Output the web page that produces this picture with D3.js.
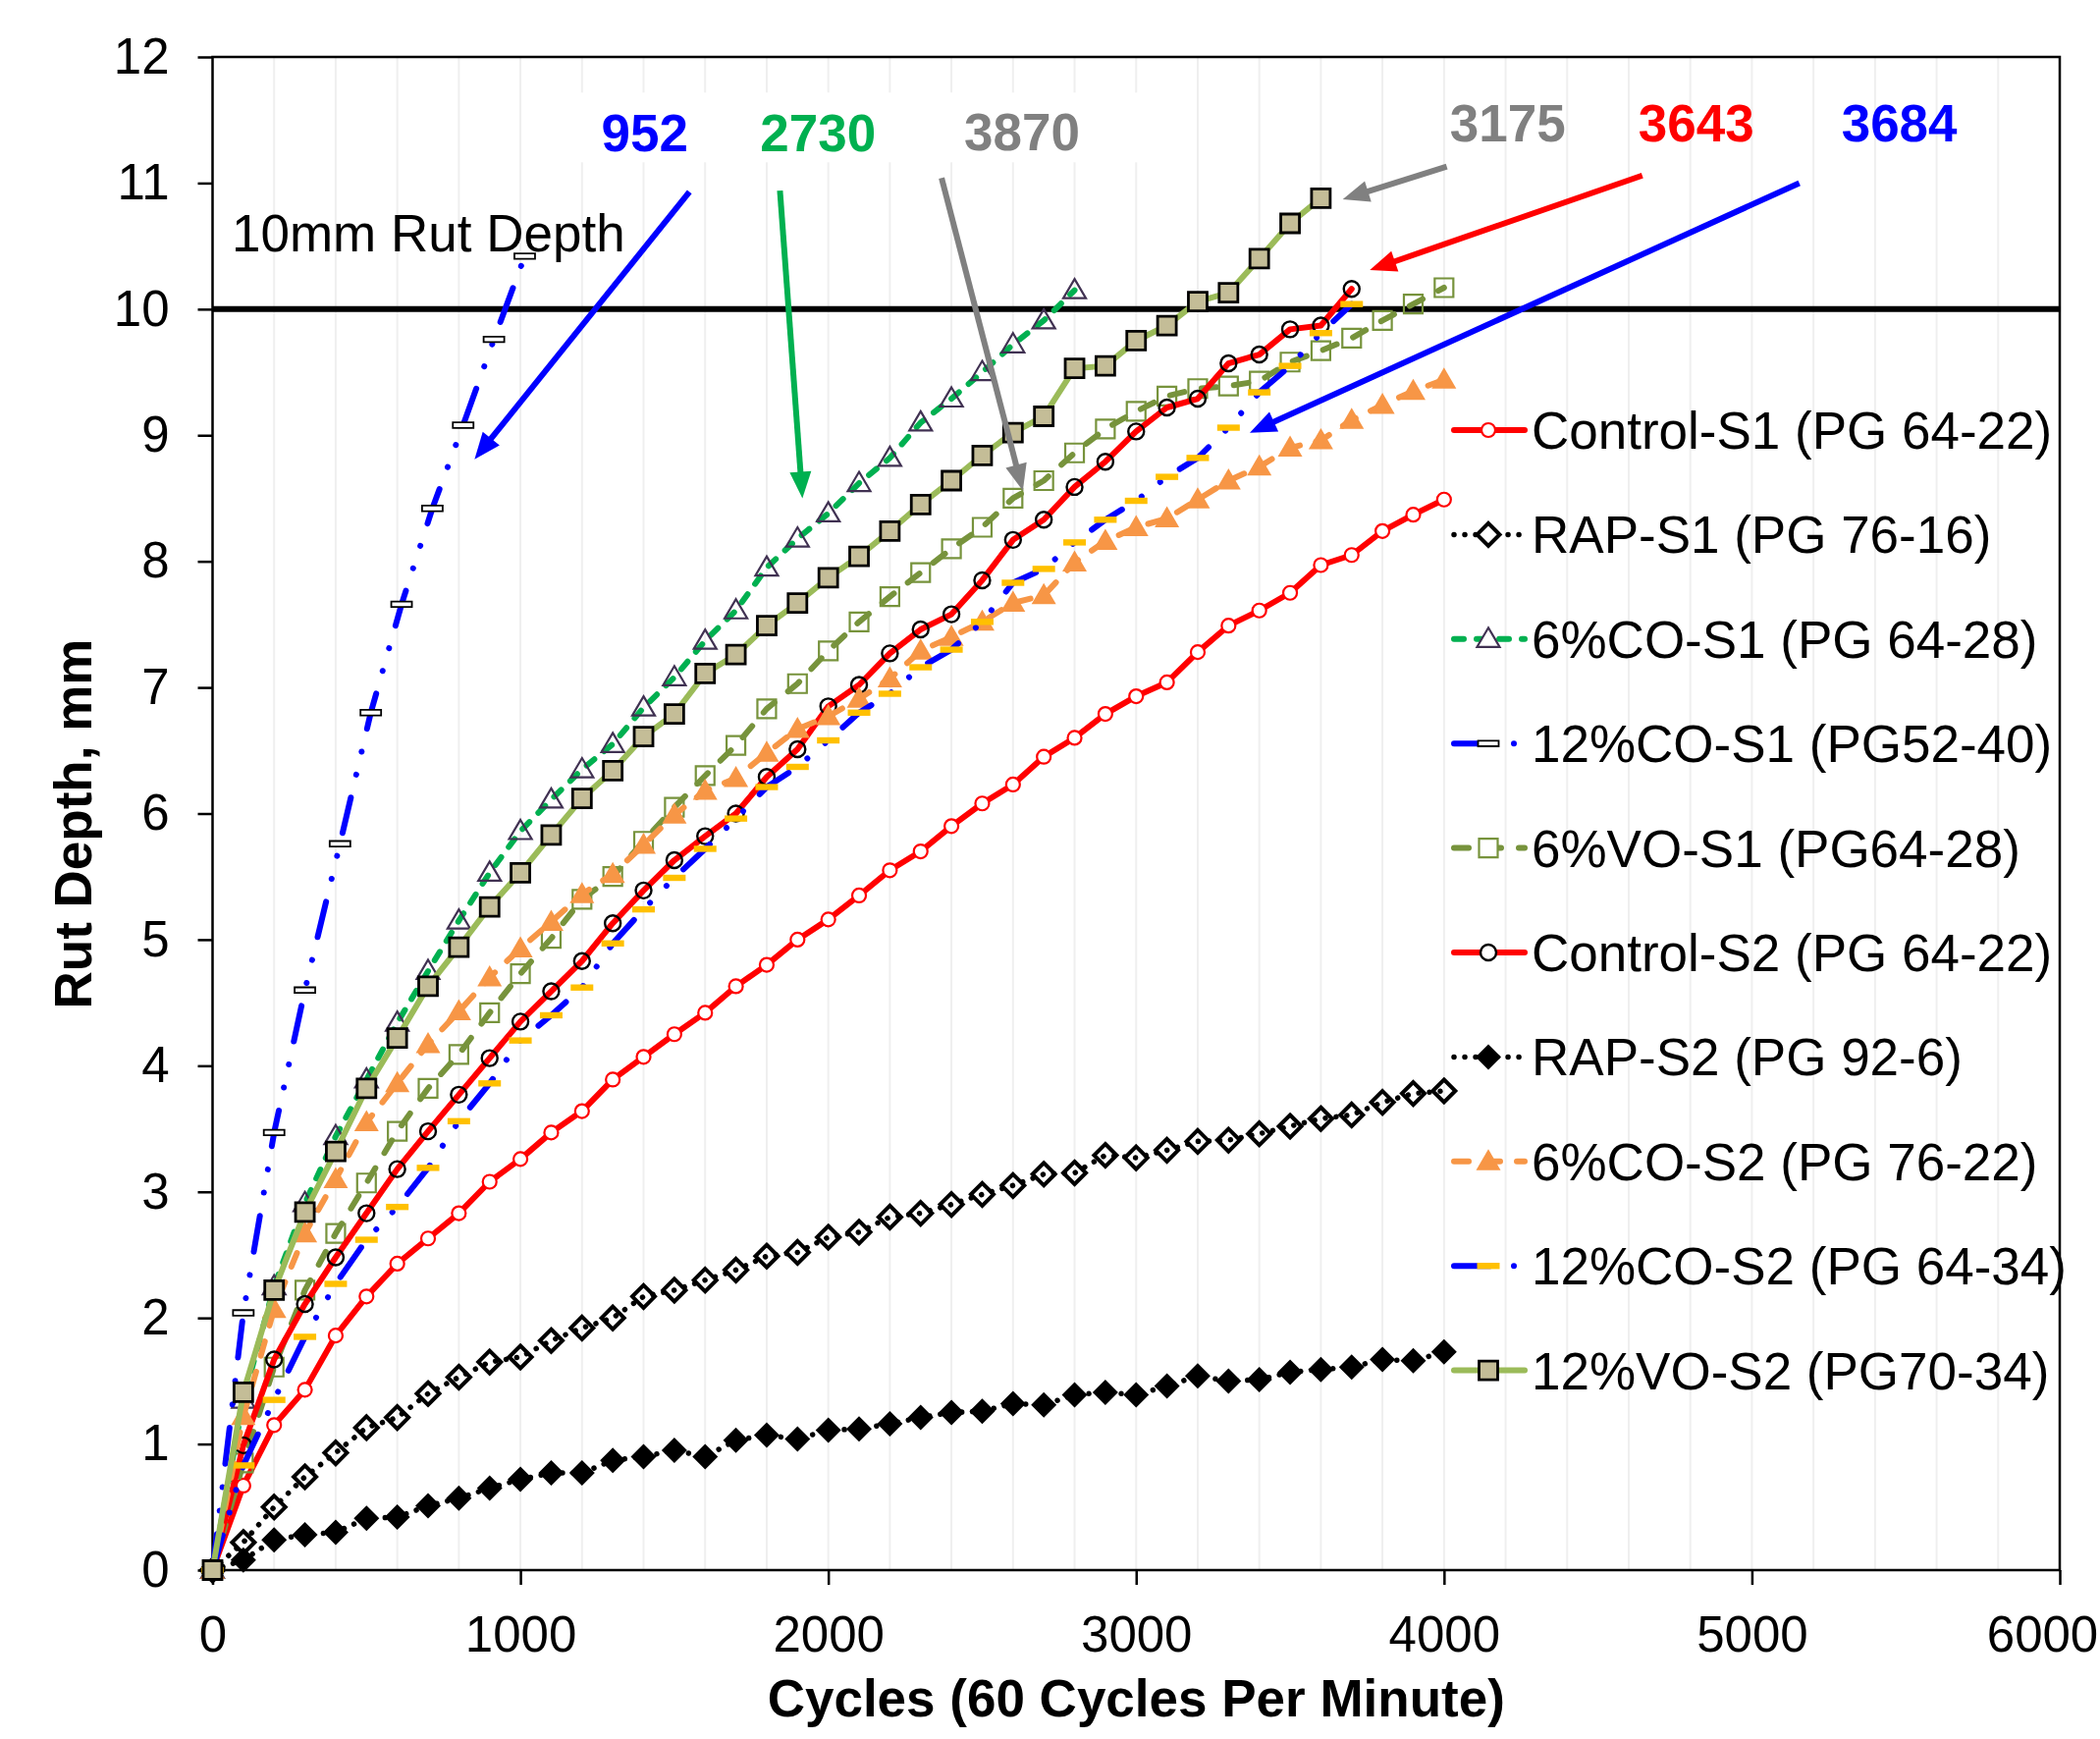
<!doctype html>
<html>
<head>
<meta charset="utf-8">
<title>Rut Depth vs Cycles</title>
<script src="https://d3js.org/d3.v7.min.js"></script>
<style>
  body { margin: 0; background: #fff; }
  svg { display: block; font-family: "Liberation Sans", Arial, sans-serif; }
</style>
</head>
<body>
<script>
// ---- data ----
var cycles = [0,100,200,300,400,500,600,700,800,900,1000,1100,1200,1300,1400,1500,1600,1700,1800,1900,
              2000,2100,2200,2300,2400,2500,2600,2700,2800,2900,3000,3100,3200,3300,3400,3500,3600,3700,3800,3900,4000];
var cyclesCO12S1 = [0,100,200,300,414,514,614,714,814,914,1014];

var controlS1 = [0,0.67,1.15,1.43,1.86,2.17,2.43,2.63,2.83,3.08,3.26,3.47,3.64,3.89,4.07,4.25,4.42,4.63,4.80,5.00,
                 5.16,5.35,5.55,5.70,5.90,6.08,6.23,6.45,6.60,6.79,6.93,7.04,7.28,7.49,7.61,7.75,7.97,8.05,8.24,8.37,8.49];
var rapS1 = [0,0.22,0.50,0.74,0.93,1.13,1.21,1.40,1.53,1.65,1.69,1.82,1.92,2.00,2.17,2.22,2.30,2.38,2.49,2.52,
             2.64,2.68,2.80,2.83,2.90,2.98,3.05,3.14,3.15,3.29,3.27,3.33,3.40,3.41,3.46,3.52,3.58,3.61,3.71,3.78,3.80];
var co6S1 = [0,1.35,2.25,2.91,3.44,3.89,4.34,4.75,5.15,5.53,5.86,6.11,6.35,6.55,6.84,7.08,7.37,7.61,7.95,8.18,
             8.38,8.62,8.82,9.10,9.29,9.50,9.72,9.91,10.15];
var co12S1 = [0,2.04,3.47,4.60,5.76,6.80,7.66,8.42,9.08,9.76,10.42];
var vo6S1 = [0,0.85,1.61,2.22,2.67,3.07,3.48,3.82,4.09,4.42,4.73,5.01,5.32,5.50,5.78,6.05,6.30,6.54,6.83,7.03,
             7.29,7.52,7.72,7.91,8.10,8.27,8.50,8.64,8.86,9.05,9.19,9.31,9.37,9.39,9.43,9.58,9.67,9.77,9.91,10.04,10.17];
var controlS2 = [0,0.99,1.67,2.11,2.48,2.83,3.18,3.48,3.77,4.06,4.35,4.59,4.83,5.13,5.39,5.63,5.82,6.00,6.29,6.51,
                 6.85,7.02,7.27,7.46,7.58,7.85,8.17,8.33,8.59,8.79,9.03,9.22,9.29,9.57,9.64,9.84,9.87,10.16];
var rapS2 = [0,0.08,0.24,0.28,0.30,0.41,0.42,0.51,0.57,0.65,0.72,0.77,0.77,0.87,0.90,0.95,0.90,1.03,1.07,1.04,
             1.11,1.12,1.16,1.21,1.25,1.26,1.32,1.31,1.39,1.41,1.39,1.46,1.54,1.50,1.51,1.57,1.59,1.61,1.67,1.66,1.73];
var co6S2 = [0,1.22,2.07,2.67,3.10,3.55,3.86,4.17,4.43,4.70,4.93,5.14,5.36,5.52,5.75,5.99,6.18,6.28,6.48,6.67,
             6.77,6.91,7.07,7.29,7.40,7.52,7.67,7.73,7.99,8.16,8.27,8.34,8.49,8.64,8.75,8.90,8.96,9.12,9.24,9.35,9.44];
var co12S2 = [0,0.83,1.35,1.85,2.27,2.62,2.88,3.19,3.56,3.86,4.20,4.40,4.62,4.97,5.24,5.49,5.72,5.96,6.21,6.37,
              6.58,6.80,6.95,7.16,7.30,7.52,7.83,7.94,8.15,8.33,8.48,8.67,8.82,9.06,9.34,9.55,9.81,10.04];
var vo12S2 = [0,1.41,2.22,2.84,3.32,3.82,4.22,4.63,4.94,5.26,5.53,5.83,6.12,6.34,6.61,6.79,7.11,7.26,7.49,7.67,
              7.87,8.04,8.24,8.45,8.64,8.84,9.02,9.15,9.53,9.55,9.75,9.87,10.06,10.13,10.40,10.68,10.88];

var seriesNames = ["Control-S1 (PG 64-22)","RAP-S1 (PG 76-16)","6%CO-S1 (PG 64-28)","12%CO-S1 (PG52-40)",
                   "6%VO-S1 (PG64-28)","Control-S2 (PG 64-22)","RAP-S2 (PG 92-6)","6%CO-S2 (PG 76-22)",
                   "12%CO-S2 (PG 64-34)","12%VO-S2 (PG70-34)"];
var xTicks = [0,1000,2000,3000,4000,5000,6000];
var yTicks = [0,1,2,3,4,5,6,7,8,9,10,11,12];
var rutLimit = 10;

// crossing annotations: label, label anchor (cycles, mm), arrow start, arrow tip
var crossLabels = ["952","2730","3870","3175","3643","3684"];
var labelAt = [[1404,11.25],[1967,11.25],[2629,11.26],[4207,11.33],[4819,11.33],[5479,11.33]];
var arrowFrom = [[1549,10.93],[1843,10.94],[2368,11.04],[4009,11.13],[4644,11.06],[5154,11.00]];
var arrowTo = [[851,8.81],[1916,8.50],[2632,8.56],[3671,10.87],[3759,10.31],[3369,9.02]];

// ---- styles ----
var labelColors = ["#0000ff","#00b050","#808080","#808080","#ff0000","#0000ff"];
var styles = [
  {color:"#ff0000", width:6, dash:null, marker:"circleRed"},
  {color:"#000000", width:5.5, dash:"0.01,11", marker:"diamondOpen"},
  {color:"#00b050", width:6, dash:"10,13", marker:"triangleOpen"},
  {color:"#0000ff", width:6, dash:"37,24,0.01,24,0.01,24", marker:"barWhite"},
  {color:"#77933c", width:6, dash:"15,18", marker:"squareOpen"},
  {color:"#ff0000", width:6, dash:null, marker:"circleBlack"},
  {color:"#000000", width:5.5, dash:"0.01,11", marker:"diamondFilled"},
  {color:"#f79646", width:6, dash:"15,17", marker:"triangleFilled"},
  {color:"#0000ff", width:6, dash:"37,24,0.01,24,0.01,24", marker:"barGold"},
  {color:"#9bbb59", width:6, dash:null, marker:"squareFilled"}
];

var seriesX = [cycles, cycles, cycles, cyclesCO12S1, cycles, cycles, cycles, cycles, cycles, cycles];
var seriesY = [controlS1, rapS1, co6S1, co12S1, vo6S1, controlS2, rapS2, co6S2, co12S2, vo12S2];
var series = seriesNames.map(function(n, i){
  return {name:n, style:styles[i], points: seriesY[i].map(function(v, j){ return {c: seriesX[i][j], v: v}; })};
});

function circ(r){ return "M" + (-r) + ",0a" + r + "," + r + " 0 1,0 " + (2*r) + ",0a" + r + "," + r + " 0 1,0 " + (-2*r) + ",0Z"; }
function markerShape(type){
  switch(type){
    case "circleRed": return {d:circ(7), fill:"#fff", stroke:"#ff0000", sw:2.2};
    case "circleBlack": return {d:circ(8), fill:"none", stroke:"#000", sw:2.4};
    case "diamondOpen": return {d:"M0,-11.5L11.5,0L0,11.5L-11.5,0Z", fill:"none", stroke:"#000", sw:4};
    case "diamondFilled": return {d:"M0,-13L13,0L0,13L-13,0Z", fill:"#000", stroke:"none", sw:0};
    case "triangleOpen": return {d:"M0,-11.5L11.5,8L-11.5,8Z", fill:"none", stroke:"#403152", sw:2.2};
    case "barWhite": return {d:"M-10.5,-2.8H10.5V2.8H-10.5Z", fill:"#fff", stroke:"#000", sw:1.8};
    case "squareOpen": return {d:"M-9.5,-9.5H9.5V9.5H-9.5Z", fill:"none", stroke:"#77933c", sw:2.2};
    case "triangleFilled": return {d:"M0,-12.5L12.5,9L-12.5,9Z", fill:"#f79646", stroke:"none", sw:0};
    case "barGold": return {d:"M-11.5,-3.2H11.5V3.2H-11.5Z", fill:"#ffc000", stroke:"none", sw:0};
    case "squareFilled": return {d:"M-9.5,-9.5H9.5V9.5H-9.5Z", fill:"#c4bd97", stroke:"#000", sw:2.8};
  }
}

// ---- layout ----
var W = 2139, H = 1771;
var plot = {left:216.5, right:2098, top:58, bottom:1599};

var svg = d3.select("body").append("svg").attr("width", W).attr("height", H);

var xscale = d3.scaleLinear().domain([0,6000]).range([plot.left, plot.right]);
var yscale = d3.scaleLinear().domain([0,12]).range([plot.bottom, plot.top]);

// minor vertical gridlines every 200 cycles
svg.append("g").selectAll("line")
  .data(d3.range(200, 6000, 200))
  .enter().append("line")
  .attr("x1", function(d){ return xscale(d); }).attr("x2", function(d){ return xscale(d); })
  .attr("y1", plot.top).attr("y2", plot.bottom)
  .attr("stroke", "#efefef").attr("stroke-width", 2);

// axes
var xaxis = d3.axisBottom(xscale).tickValues(xTicks).tickFormat(d3.format("d"))
  .tickSize(15).tickSizeOuter(0).tickPadding(32);
var yaxis = d3.axisLeft(yscale).tickValues(yTicks).tickSize(15).tickSizeOuter(0).tickPadding(29);

var gx = svg.append("g").attr("transform", "translate(0," + plot.bottom + ")").call(xaxis);
var gy = svg.append("g").attr("transform", "translate(" + plot.left + ",0)").call(yaxis);
[gx, gy].forEach(function(g){
  g.attr("font-family", null).attr("font-size", null);
  g.select(".domain").remove();
  g.selectAll(".tick line").attr("stroke", "#000").attr("stroke-width", 2.5);
  g.selectAll(".tick text").attr("fill", "#000").style("font-size", "51px");
});
// keep the last x label inside the page
gx.selectAll(".tick text").filter(function(d){ return d === 6000; }).attr("dx", -18);

// frame
svg.append("rect")
  .attr("x", plot.left).attr("y", plot.top)
  .attr("width", plot.right - plot.left).attr("height", plot.bottom - plot.top)
  .attr("fill", "none").attr("stroke", "#000").attr("stroke-width", 2.5);

// 10 mm rut depth line
svg.append("line")
  .attr("x1", plot.left).attr("x2", plot.right)
  .attr("y1", yscale(rutLimit)).attr("y2", yscale(rutLimit))
  .attr("stroke", "#000").attr("stroke-width", 6);

svg.append("text").attr("x", 236).attr("y", 256)
  .style("font-size", "53px").text("10mm Rut Depth");

// series
var line = d3.line().x(function(d){ return xscale(d.c); }).y(function(d){ return yscale(d.v); });

series.forEach(function(s){
  var g = svg.append("g");
  g.append("path").datum(s.points)
    .attr("d", line)
    .attr("fill", "none")
    .attr("stroke", s.style.color)
    .attr("stroke-width", s.style.width)
    .attr("stroke-linecap", "round")
    .attr("stroke-linejoin", "round")
    .attr("stroke-dasharray", s.style.dash);
  var m = markerShape(s.style.marker);
  g.selectAll(".mk").data(s.points).enter().append("path")
    .attr("class", "mk")
    .attr("d", m.d)
    .attr("transform", function(d){ return "translate(" + xscale(d.c) + "," + yscale(d.v) + ")"; })
    .attr("fill", m.fill).attr("stroke", m.stroke).attr("stroke-width", m.sw);
});

// annotation labels with white boxes
var labelG = svg.append("g");
var labels = labelG.selectAll("text").data(crossLabels).enter().append("text")
  .attr("x", function(d, i){ return xscale(labelAt[i][0]); })
  .attr("y", function(d, i){ return yscale(labelAt[i][1]); })
  .attr("text-anchor", "middle")
  .attr("font-weight", "bold")
  .style("font-size", "53px")
  .attr("fill", function(d, i){ return labelColors[i]; })
  .text(function(d){ return d; });

var b0 = labels.nodes()[0].getBBox(), b2 = labels.nodes()[2].getBBox();
labelG.insert("rect", "text")
  .attr("x", b0.x - 22).attr("y", b0.y - 12)
  .attr("width", b2.x + b2.width - b0.x + 90).attr("height", b0.height + 12)
  .attr("fill", "#fff");

// arrows
var arrowG = svg.append("g");
crossLabels.forEach(function(lbl, i){
  var sx = xscale(arrowFrom[i][0]), sy = yscale(arrowFrom[i][1]);
  var ex = xscale(arrowTo[i][0]), ey = yscale(arrowTo[i][1]);
  var dx = ex - sx, dy = ey - sy, len = Math.sqrt(dx*dx + dy*dy);
  var ux = dx / len, uy = dy / len, nx = -uy, ny = ux;
  var L = 27, Wd = 11;
  var bx = ex - ux * L, by = ey - uy * L;
  arrowG.append("line")
    .attr("x1", sx).attr("y1", sy).attr("x2", bx + ux * 4).attr("y2", by + uy * 4)
    .attr("stroke", labelColors[i]).attr("stroke-width", 6);
  arrowG.append("path")
    .attr("d", "M" + ex + "," + ey + "L" + (bx + nx * Wd) + "," + (by + ny * Wd) + "L" + (bx - nx * Wd) + "," + (by - ny * Wd) + "Z")
    .attr("fill", labelColors[i]);
});

// legend
var legend = svg.append("g");
series.forEach(function(s, i){
  var ry = 438 + i * 106.4;
  legend.append("line")
    .attr("x1", 1481).attr("x2", 1553).attr("y1", ry).attr("y2", ry)
    .attr("stroke", s.style.color).attr("stroke-width", s.style.width)
    .attr("stroke-linecap", "round")
    .attr("stroke-dasharray", s.style.dash);
  var m = markerShape(s.style.marker);
  legend.append("path").attr("d", m.d)
    .attr("transform", "translate(1516," + ry + ")")
    .attr("fill", m.fill === "none" ? "#fff" : m.fill)
    .attr("stroke", m.stroke).attr("stroke-width", m.sw);
  legend.append("text").attr("x", 1560).attr("y", ry + 19)
    .style("font-size", "53px").text(s.name);
});

// axis titles
svg.append("text")
  .attr("x", (plot.left + plot.right) / 2).attr("y", 1748)
  .attr("text-anchor", "middle").attr("font-weight", "bold")
  .style("font-size", "53px")
  .text("Cycles (60 Cycles Per Minute)");

svg.append("text")
  .attr("transform", "translate(93,839) rotate(-90)")
  .attr("text-anchor", "middle").attr("font-weight", "bold")
  .style("font-size", "53px")
  .text("Rut Depth, mm");
</script>
</body>
</html>
